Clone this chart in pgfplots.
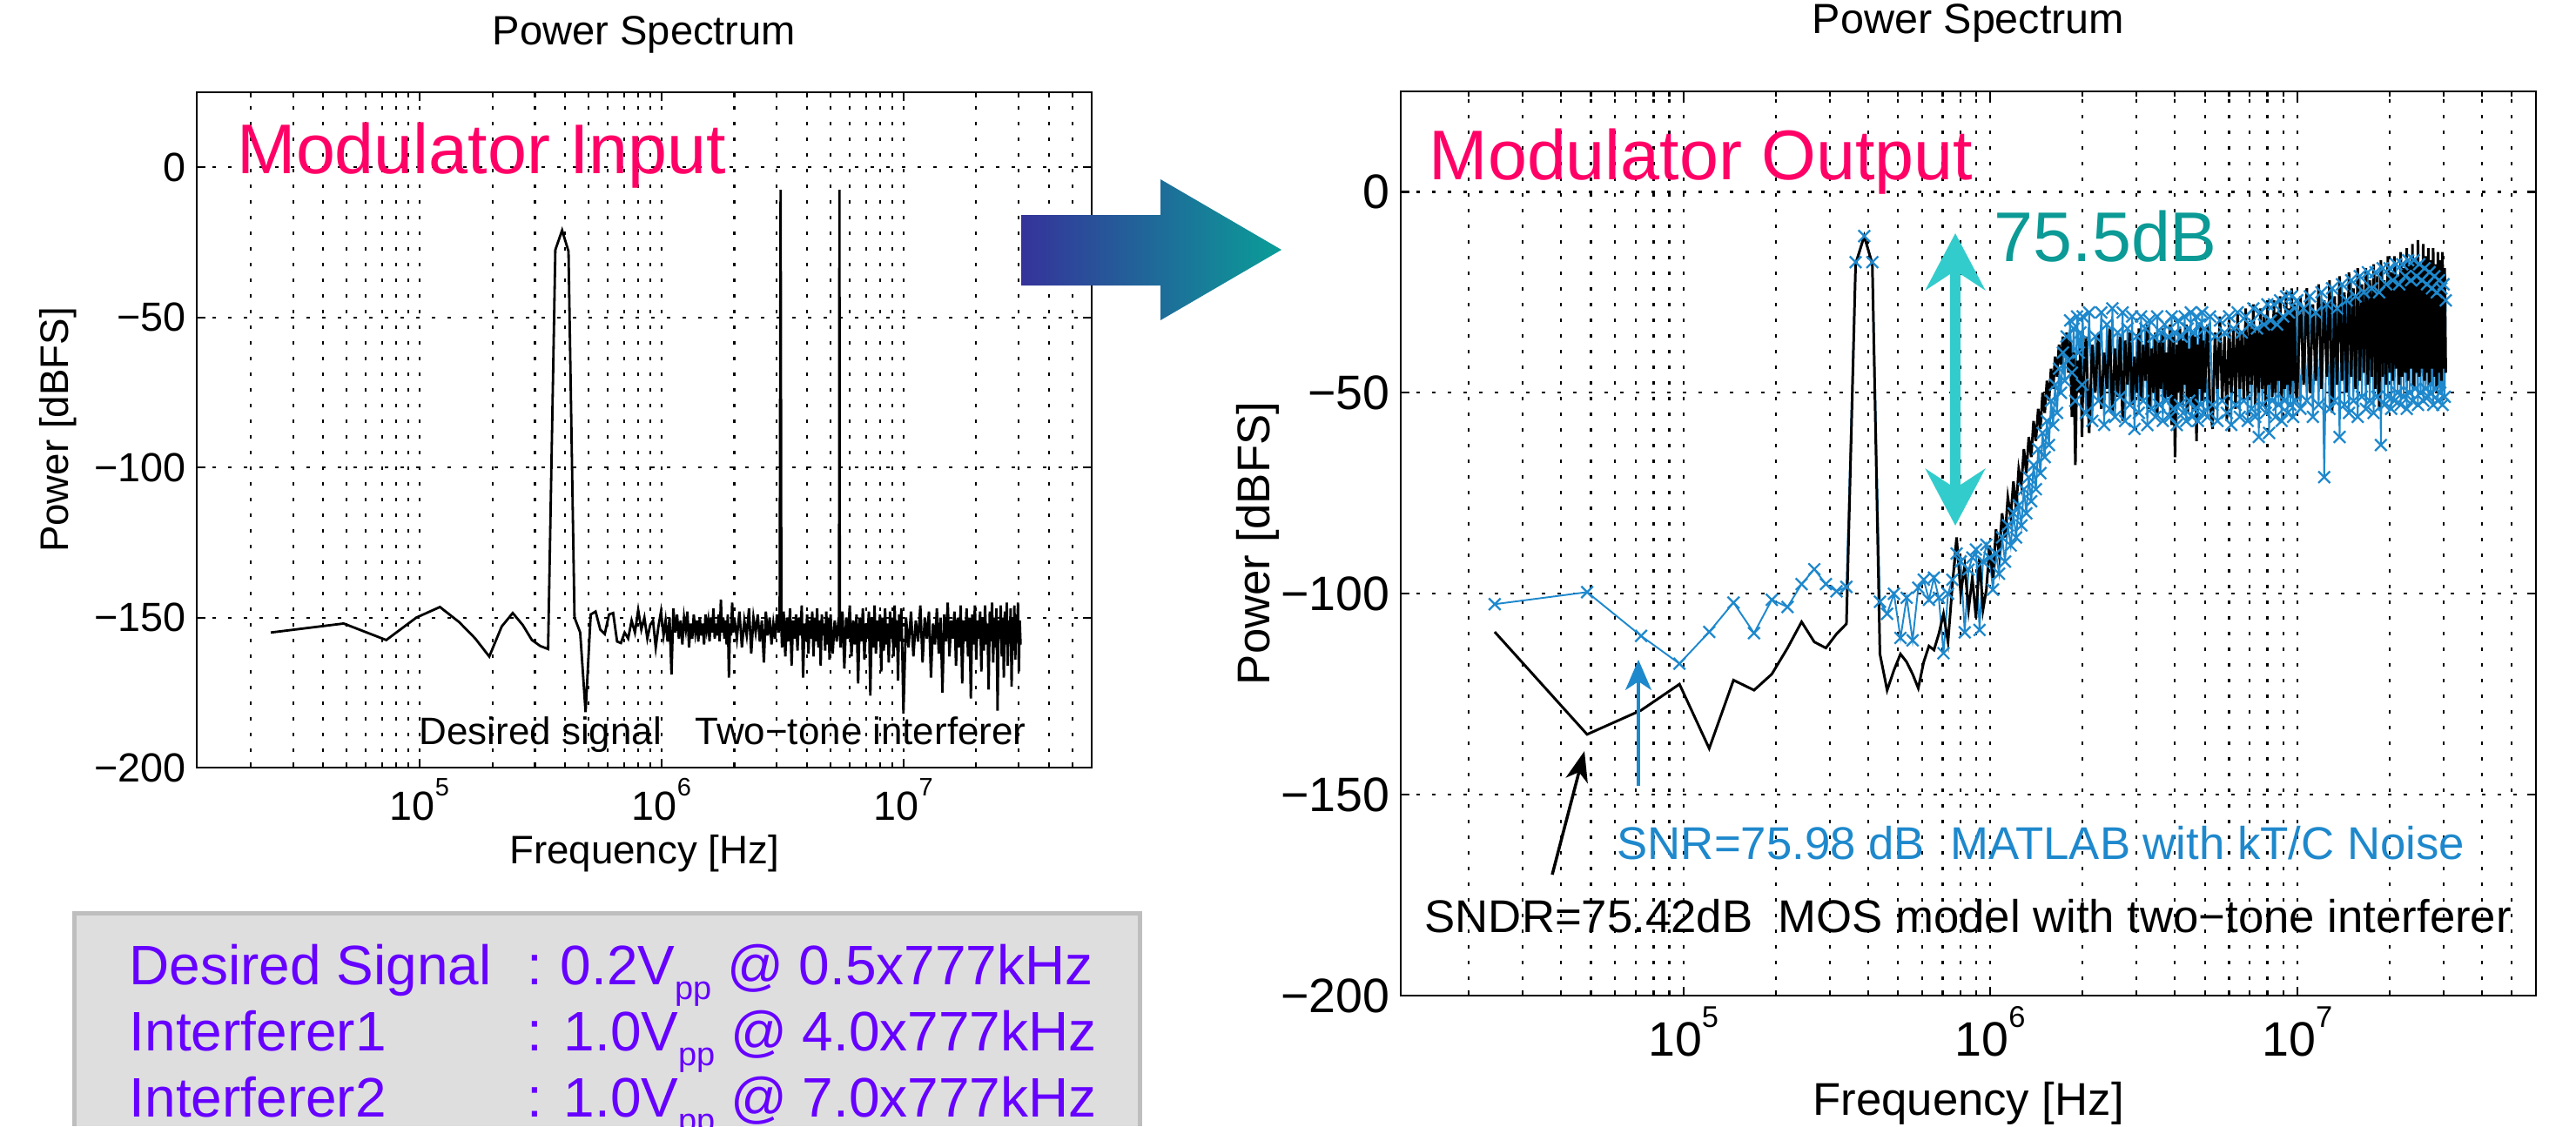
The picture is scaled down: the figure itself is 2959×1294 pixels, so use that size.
\documentclass[border=0pt]{standalone}
\usepackage{fontspec}
\setmainfont{Liberation Sans}
\usepackage{graphicx}
\usepackage{pgfplots}
\pgfplotsset{compat=1.18}
\usetikzlibrary{arrows.meta}

\definecolor{modpink}{HTML}{FF0066}
\definecolor{boxtext}{HTML}{6600FF}
\definecolor{teal75}{HTML}{0B9A95}
\definecolor{turq}{HTML}{33CCCC}
\definecolor{mblue}{HTML}{1E88CC}
\definecolor{arrL}{HTML}{35339A}
\definecolor{arrR}{HTML}{0A9E98}
\definecolor{boxfill}{HTML}{DEDEDE}
\definecolor{boxline}{HTML}{BEBEBE}

\newcommand{\tenpow}[1]{10\raisebox{0.6em}{\scalebox{0.62}{#1}}}

\begin{document}
\begin{tikzpicture}[x=0.1mm, y=-0.1mm]
\useasboundingbox (0,0) rectangle (2959,1294);

% ---------- left: modulator input ----------
\begin{axis}[
  scale only axis,
  at={(2.26cm,-8.82cm)}, anchor=south west,
  width=10.28cm, height=7.76cm,
  xmode=log, xmin=1.2e4, xmax=6e7,
  ymin=-200, ymax=25,
  xtick={1e5,1e6,1e7},
  xticklabels={\tenpow{5},\tenpow{6},\tenpow{7}},
  minor xtick={2e4,3e4,4e4,5e4,6e4,7e4,8e4,9e4,2e5,3e5,4e5,5e5,6e5,7e5,8e5,9e5,
               2e6,3e6,4e6,5e6,6e6,7e6,8e6,9e6,2e7,3e7,4e7,5e7},
  ytick={-200,-150,-100,-50,0},
  yticklabels={−200,−150,−100,−50,0},
  xmajorgrids, xminorgrids, ymajorgrids,
  grid style={black, line width=0.6pt, dash pattern=on 0.4mm off 1.4mm},
  minor grid style={black, line width=0.6pt, dash pattern=on 0.4mm off 1.4mm},
  tick align=inside, tick pos=both,
  major tick length=1mm, minor tick length=0.6mm,
  axis line style={line width=0.7pt},
  tick style={black, line width=0.6pt},
  title={Power Spectrum},
  title style={font=\fontsize{13.4}{16}\selectfont, at={(axis description cs:0.5,1)}, anchor=base, yshift=3.3mm},
  xlabel={Frequency [Hz]}, ylabel={Power [dBFS]},
  every axis x label/.style={at={(axis description cs:0.5,0)}, anchor=base, yshift=-11mm},
  every axis y label/.style={at={(axis description cs:0,0.5)}, xshift=-15.9mm, rotate=90, anchor=center},
  label style={font=\fontsize{13}{15}\selectfont},
  tick label style={font=\fontsize{13.3}{15}\selectfont},
]
\addplot[black, line width=0.8pt] coordinates {
(24281,-155) (48563,-152) (72844,-157.5) (97125,-150) (121406,-146.5) (145688,-151.5)
(169969,-157) (194250,-163) (218531,-153) (242813,-148.5) (267094,-152.5) (291375,-157.5)
(315656,-159.5) (339938,-160.5) (364219,-27.5) (388500,-21) (412781,-28) (437063,-150)
(461344,-155) (485625,-181.5) (509906,-149) (534188,-148) (558469,-154) (582750,-155.5)
(607031,-149) (631313,-148.5) (655594,-158) (679875,-158.5) (704156,-155) (728438,-157)
(752719,-151) (777000,-155) (801281,-147.5) (825563,-154) (849844,-150) (874125,-157)
(898406,-152.5) (922688,-151) (946969,-160) (971250,-153) (995531,-148)
(1.02e6,-156) (1.04e6,-151) (1.06e6,-158) (1.08e6,-150) (1.10e6,-169) (1.12e6,-147)
(1.14e6,-155) (1.16e6,-149) (1.18e6,-157) (1.20e6,-151) (1.22e6,-159) (1.24e6,-150)
(1.26e6,-154) (1.28e6,-148) (1.30e6,-160) (1.32e6,-152) (1.34e6,-157) (1.36e6,-149)
(1.38e6,-155) (1.40e6,-151) (1.42e6,-158) (1.44e6,-150) (1.46e6,-156) (1.48e6,-152)
(1.50e6,-159) (1.52e6,-149) (1.54e6,-154) (1.56e6,-151) (1.58e6,-158) (1.60e6,-150)
(1.62e6,-155) (1.64e6,-147) (1.66e6,-157) (1.68e6,-152) (1.70e6,-156) (1.72e6,-149)
(1.74e6,-158) (1.76e6,-144) (1.78e6,-155) (1.80e6,-150) (1.82e6,-157) (1.84e6,-151)
(1.86e6,-159) (1.88e6,-149) (1.90e6,-170) (1.92e6,-152) (1.94e6,-156) (1.96e6,-145)
(1.98e6,-155)
(2.00e6,-150) (2.05e6,-157) (2.10e6,-148) (2.15e6,-160) (2.20e6,-151) (2.25e6,-156)
(2.30e6,-147) (2.35e6,-162) (2.40e6,-150) (2.45e6,-155) (2.50e6,-149) (2.55e6,-158)
(2.60e6,-151) (2.65e6,-165) (2.70e6,-148) (2.75e6,-156) (2.80e6,-150) (2.85e6,-159)
(2.90e6,-152) (2.95e6,-157) (3.00e6,-149) (3.05e6,-155) (3.08e6,-151) (3.108e6,-7.5)
(3.13e6,-153) (3.15e6,-160) (3.20e6,-148) (3.25e6,-163) (3.30e6,-150) (3.35e6,-158)
(3.40e6,-147) (3.45e6,-166) (3.50e6,-151) (3.55e6,-157) (3.60e6,-149) (3.65e6,-161)
(3.70e6,-150) (3.75e6,-156) (3.80e6,-146) (3.85e6,-170) (3.90e6,-152) (3.95e6,-158)
(4.00e6,-149) (4.05e6,-162) (4.10e6,-151) (4.15e6,-157) (4.20e6,-148) (4.25e6,-163)
(4.30e6,-150) (4.35e6,-158) (4.40e6,-147) (4.45e6,-160) (4.50e6,-151) (4.55e6,-166)
(4.60e6,-149) (4.65e6,-156) (4.70e6,-152) (4.75e6,-161) (4.80e6,-148) (4.85e6,-159)
(4.90e6,-150) (4.95e6,-164)
(5.0e6,-149) (5.1e6,-162) (5.2e6,-151) (5.3e6,-158) (5.4e6,-150) (5.42e6,-152)
(5.439e6,-7.5) (5.46e6,-155) (5.5e6,-160) (5.6e6,-148) (5.7e6,-167) (5.8e6,-150)
(5.9e6,-157) (6.0e6,-146) (6.1e6,-163) (6.2e6,-151) (6.3e6,-159) (6.4e6,-149)
(6.5e6,-172) (6.6e6,-150) (6.7e6,-158) (6.8e6,-147) (6.9e6,-164) (7.0e6,-152)
(7.1e6,-157) (7.2e6,-148) (7.3e6,-176) (7.4e6,-150) (7.5e6,-160) (7.6e6,-146)
(7.7e6,-162) (7.8e6,-151) (7.9e6,-158) (8.0e6,-149) (8.1e6,-168) (8.2e6,-150)
(8.3e6,-161) (8.4e6,-147) (8.5e6,-159) (8.6e6,-152) (8.7e6,-165) (8.8e6,-148)
(8.9e6,-157) (9.0e6,-150) (9.1e6,-163) (9.2e6,-146) (9.3e6,-160) (9.4e6,-151)
(9.5e6,-171) (9.6e6,-149) (9.7e6,-158) (9.8e6,-147) (9.9e6,-162)
(1.000e7,-182) (1.025e7,-150) (1.050e7,-160) (1.075e7,-148) (1.100e7,-163) (1.125e7,-151)
(1.150e7,-158) (1.175e7,-146) (1.200e7,-165) (1.225e7,-150) (1.250e7,-157) (1.275e7,-148)
(1.300e7,-170) (1.325e7,-152) (1.350e7,-159) (1.375e7,-147) (1.400e7,-162) (1.425e7,-150)
(1.450e7,-175) (1.475e7,-149) (1.500e7,-158) (1.525e7,-145) (1.550e7,-163) (1.575e7,-151)
(1.600e7,-157) (1.625e7,-148) (1.650e7,-166) (1.675e7,-150) (1.700e7,-160) (1.725e7,-146)
(1.750e7,-172) (1.775e7,-151) (1.800e7,-158) (1.825e7,-147) (1.850e7,-163) (1.875e7,-150)
(1.900e7,-177) (1.925e7,-149) (1.950e7,-159) (1.975e7,-146) (2.000e7,-164) (2.025e7,-151)
(2.050e7,-157) (2.075e7,-148) (2.100e7,-168) (2.125e7,-150) (2.150e7,-161) (2.175e7,-146)
(2.200e7,-159) (2.225e7,-152) (2.250e7,-174) (2.275e7,-148) (2.300e7,-158) (2.325e7,-145)
(2.350e7,-165) (2.375e7,-150) (2.400e7,-160) (2.425e7,-147) (2.450e7,-181) (2.475e7,-151)
(2.500e7,-157) (2.525e7,-146) (2.550e7,-163) (2.575e7,-150) (2.600e7,-170) (2.625e7,-148)
(2.650e7,-159) (2.675e7,-145) (2.700e7,-166) (2.725e7,-151) (2.750e7,-158) (2.775e7,-147)
(2.800e7,-173) (2.825e7,-150) (2.850e7,-161) (2.875e7,-146) (2.900e7,-164) (2.925e7,-149)
(2.950e7,-158) (2.975e7,-145) (3.000e7,-168) (3.025e7,-151) (3.050e7,-159)
};
\end{axis}

% ---------- right: modulator output ----------
\begin{axis}[
  scale only axis,
  at={(16.09cm,-11.44cm)}, anchor=south west,
  width=13.04cm, height=10.39cm,
  xmode=log, xmin=1.2e4, xmax=6e7,
  ymin=-200, ymax=25,
  xtick={1e5,1e6,1e7},
  xticklabels={\tenpow{5},\tenpow{6},\tenpow{7}},
  minor xtick={2e4,3e4,4e4,5e4,6e4,7e4,8e4,9e4,2e5,3e5,4e5,5e5,6e5,7e5,8e5,9e5,
               2e6,3e6,4e6,5e6,6e6,7e6,8e6,9e6,2e7,3e7,4e7,5e7},
  ytick={-200,-150,-100,-50,0},
  yticklabels={−200,−150,−100,−50,0},
  xmajorgrids, xminorgrids, ymajorgrids,
  grid style={black, line width=0.6pt, dash pattern=on 0.4mm off 1.4mm},
  minor grid style={black, line width=0.6pt, dash pattern=on 0.4mm off 1.4mm},
  tick align=inside, tick pos=both,
  major tick length=1mm, minor tick length=0.6mm,
  axis line style={line width=0.7pt},
  tick style={black, line width=0.6pt},
  title={Power Spectrum},
  title style={font=\fontsize{13.8}{16}\selectfont, at={(axis description cs:0.5,1)}, anchor=base, yshift=4.5mm},
  xlabel={Frequency [Hz]}, ylabel={Power [dBFS]},
  every axis x label/.style={at={(axis description cs:0.5,0)}, anchor=base, yshift=-13.7mm},
  every axis y label/.style={at={(axis description cs:0,0.5)}, xshift=-16.4mm, rotate=90, anchor=center},
  label style={font=\fontsize{15}{18}\selectfont},
  tick label style={font=\fontsize{15.8}{18}\selectfont},
]
% MATLAB model with kT/C noise
\addplot[mblue, line width=0.55pt, mark=x, mark size=0.95mm, mark options={line width=0.65pt}] coordinates {
(24281,-102.6) (48563,-99.6) (72844,-110.5) (97125,-117.4) (121406,-109.5) (145688,-102.2)
(169969,-109.8) (194250,-101.5) (218531,-103.3) (242813,-97.6) (267094,-93.9) (291375,-97.6)
(315656,-99.4) (339938,-98.3) (364219,-17.5) (388500,-11) (412781,-17.5) (437063,-102)
(461344,-105) (485625,-100) (509906,-111) (534188,-101) (558469,-111.6) (582750,-98.5)
(607031,-96.5) (631313,-101.5) (655594,-96) (679875,-101) (704156,-114.8) (728438,-100)
(752719,-96.5) (777000,-90) (801281,-92) (825563,-109.6) (849844,-94) (874125,-91)
(898406,-89) (922688,-109) (946969,-92) (971250,-87.8) (995531,-91)
(1.020e6,-99) (1.044e6,-90) (1.068e6,-95) (1.093e6,-86) (1.117e6,-92) (1.141e6,-83)
(1.166e6,-88) (1.190e6,-80) (1.214e6,-86) (1.238e6,-78) (1.263e6,-83) (1.287e6,-74)
(1.311e6,-80) (1.335e6,-71) (1.360e6,-77) (1.384e6,-68) (1.408e6,-74) (1.433e6,-64)
(1.457e6,-70) (1.481e6,-60) (1.505e6,-66) (1.530e6,-57) (1.554e6,-63) (1.578e6,-52)
(1.603e6,-58) (1.627e6,-48) (1.651e6,-55) (1.675e6,-44) (1.700e6,-50) (1.724e6,-40)
(1.748e6,-47) (1.773e6,-36) (1.797e6,-42) (1.821e6,-32) (1.845e6,-45) (1.870e6,-34)
(1.894e6,-52) (1.918e6,-31) (1.943e6,-40) (1.967e6,-35) (1.991e6,-48)
(2.00e6,-31) (2.05e6,-55) (2.10e6,-30) (2.15e6,-57) (2.20e6,-36) (2.25e6,-52)
(2.30e6,-30) (2.35e6,-58) (2.40e6,-33) (2.45e6,-54) (2.50e6,-29) (2.55e6,-56)
(2.60e6,-35) (2.65e6,-51) (2.70e6,-30) (2.75e6,-57) (2.80e6,-34) (2.85e6,-53)
(2.90e6,-31) (2.95e6,-59) (3.00e6,-36) (3.05e6,-55) (3.10e6,-31) (3.15e6,-52)
(3.20e6,-34) (3.25e6,-58) (3.30e6,-32) (3.35e6,-54) (3.40e6,-36) (3.45e6,-56)
(3.50e6,-31) (3.55e6,-53) (3.60e6,-35) (3.65e6,-57) (3.70e6,-33) (3.75e6,-52)
(3.80e6,-36) (3.85e6,-56) (3.90e6,-31) (3.95e6,-54) (4.00e6,-35) (4.05e6,-58)
(4.10e6,-32) (4.15e6,-53) (4.20e6,-36) (4.25e6,-55) (4.30e6,-31) (4.35e6,-57)
(4.40e6,-34) (4.45e6,-52) (4.50e6,-30) (4.55e6,-56) (4.60e6,-35) (4.65e6,-54)
(4.70e6,-31) (4.75e6,-57) (4.80e6,-33) (4.85e6,-53) (4.90e6,-30) (4.95e6,-55)
(5.0e6,-34) (5.1e6,-56) (5.2e6,-31) (5.3e6,-53) (5.4e6,-36) (5.5e6,-57)
(5.6e6,-32) (5.7e6,-52) (5.8e6,-35) (5.9e6,-55) (6.0e6,-31) (6.1e6,-58)
(6.2e6,-34) (6.3e6,-53) (6.4e6,-30) (6.5e6,-56) (6.6e6,-35) (6.7e6,-52)
(6.8e6,-31) (6.9e6,-57) (7.0e6,-33) (7.1e6,-54) (7.2e6,-29) (7.3e6,-56)
(7.4e6,-34) (7.5e6,-61) (7.6e6,-30) (7.7e6,-53) (7.8e6,-33) (7.9e6,-55)
(8.0e6,-28) (8.1e6,-60) (8.2e6,-32) (8.3e6,-52) (8.4e6,-28) (8.5e6,-56)
(8.6e6,-33) (8.7e6,-53) (8.8e6,-27) (8.9e6,-57) (9.0e6,-31) (9.1e6,-52)
(9.2e6,-26) (9.3e6,-55) (9.4e6,-30) (9.5e6,-53) (9.6e6,-26) (9.7e6,-56)
(9.8e6,-29) (9.9e6,-52)
(1.000e7,-27) (1.025e7,-54) (1.050e7,-29) (1.075e7,-52) (1.100e7,-26) (1.125e7,-56)
(1.150e7,-30) (1.175e7,-53) (1.200e7,-25) (1.225e7,-71) (1.250e7,-28) (1.275e7,-54)
(1.300e7,-24) (1.325e7,-52) (1.350e7,-29) (1.375e7,-61) (1.400e7,-23) (1.425e7,-53)
(1.450e7,-27) (1.475e7,-55) (1.500e7,-22) (1.525e7,-52) (1.550e7,-26) (1.575e7,-56)
(1.600e7,-21) (1.625e7,-51) (1.650e7,-25) (1.675e7,-54) (1.700e7,-20) (1.725e7,-52)
(1.750e7,-24) (1.775e7,-55) (1.800e7,-20) (1.825e7,-51) (1.850e7,-25) (1.875e7,-63)
(1.900e7,-19) (1.925e7,-53) (1.950e7,-23) (1.975e7,-51) (2.000e7,-19) (2.025e7,-54)
(2.050e7,-22) (2.075e7,-52) (2.100e7,-18) (2.125e7,-50) (2.150e7,-23) (2.175e7,-53)
(2.200e7,-18) (2.225e7,-51) (2.250e7,-21) (2.275e7,-54) (2.300e7,-17) (2.325e7,-50)
(2.350e7,-22) (2.375e7,-52) (2.400e7,-17) (2.425e7,-49) (2.450e7,-21) (2.475e7,-53)
(2.500e7,-18) (2.525e7,-50) (2.550e7,-22) (2.575e7,-52) (2.600e7,-19) (2.625e7,-49)
(2.650e7,-23) (2.675e7,-51) (2.700e7,-20) (2.725e7,-50) (2.750e7,-24) (2.775e7,-53)
(2.800e7,-21) (2.825e7,-49) (2.850e7,-25) (2.875e7,-52) (2.900e7,-22) (2.925e7,-50)
(2.950e7,-24) (2.975e7,-53) (3.000e7,-23) (3.025e7,-51) (3.050e7,-27)
};
% MOS model with two-tone interferer
\addplot[black, line width=0.85pt] coordinates {
(24281,-109.5) (48563,-135) (72844,-129) (97125,-122.5) (121406,-138.5) (145688,-121.5)
(169969,-124) (194250,-120) (218531,-113.5) (242813,-107) (267094,-112) (291375,-113.5)
(315656,-110) (339938,-107.5) (364219,-18) (388500,-11) (412781,-18) (437063,-115)
(461344,-124) (485625,-119) (509906,-115) (534188,-117) (558469,-120) (582750,-123.5)
(607031,-117) (631313,-113) (655594,-114) (679875,-110) (704156,-105) (728438,-112)
(752719,-98) (777000,-86) (801281,-100) (825563,-93) (849844,-104) (874125,-96)
(898406,-106) (922688,-91) (946969,-104) (971250,-99) (995531,-88)
(1.020e6,-96) (1.044e6,-84) (1.068e6,-90) (1.093e6,-80) (1.117e6,-86) (1.141e6,-76)
(1.166e6,-81) (1.190e6,-72) (1.214e6,-79) (1.238e6,-69) (1.263e6,-73) (1.287e6,-64)
(1.311e6,-70) (1.335e6,-61) (1.360e6,-66) (1.384e6,-57) (1.408e6,-62) (1.433e6,-54)
(1.457e6,-59) (1.481e6,-50) (1.505e6,-55) (1.530e6,-47) (1.554e6,-52) (1.578e6,-44)
(1.603e6,-49) (1.627e6,-41) (1.651e6,-46) (1.675e6,-38) (1.700e6,-43) (1.724e6,-36)
(1.748e6,-41) (1.773e6,-35) (1.797e6,-45) (1.821e6,-37) (1.845e6,-56) (1.870e6,-40)
(1.894e6,-68) (1.918e6,-42) (1.943e6,-50) (1.967e6,-39) (1.991e6,-61)
(2.00e6,-52) (2.05e6,-36) (2.10e6,-60) (2.15e6,-38) (2.20e6,-50) (2.25e6,-35)
(2.30e6,-54) (2.35e6,-40) (2.40e6,-49) (2.45e6,-34) (2.50e6,-55) (2.55e6,-39)
(2.60e6,-51) (2.65e6,-36) (2.70e6,-57) (2.75e6,-37) (2.80e6,-48) (2.85e6,-35)
(2.90e6,-53) (2.95e6,-41) (3.00e6,-50) (3.05e6,-34) (3.10e6,-52) (3.15e6,-38)
(3.20e6,-47) (3.25e6,-33) (3.30e6,-54) (3.35e6,-39) (3.40e6,-50) (3.45e6,-35)
(3.50e6,-56) (3.55e6,-37) (3.60e6,-49) (3.65e6,-34) (3.70e6,-52) (3.75e6,-40)
(3.80e6,-51) (3.85e6,-33) (3.90e6,-58) (3.95e6,-36) (4.00e6,-66) (4.05e6,-38)
(4.10e6,-50) (4.15e6,-34) (4.20e6,-53) (4.25e6,-37) (4.30e6,-48) (4.35e6,-33)
(4.40e6,-55) (4.45e6,-39) (4.50e6,-51) (4.55e6,-35) (4.60e6,-54) (4.65e6,-36)
(4.70e6,-62) (4.75e6,-38) (4.80e6,-49) (4.85e6,-33) (4.90e6,-52) (4.95e6,-37)
(5.0e6,-50) (5.1e6,-33) (5.2e6,-53) (5.3e6,-59) (5.4e6,-35) (5.5e6,-49)
(5.6e6,-31) (5.7e6,-52) (5.8e6,-36) (5.9e6,-57) (6.0e6,-32) (6.1e6,-50)
(6.2e6,-34) (6.3e6,-54) (6.4e6,-30) (6.5e6,-49) (6.6e6,-35) (6.7e6,-52)
(6.8e6,-29) (6.9e6,-51) (7.0e6,-33) (7.1e6,-48) (7.2e6,-28) (7.3e6,-53)
(7.4e6,-34) (7.5e6,-50) (7.6e6,-29) (7.7e6,-49) (7.8e6,-31) (7.9e6,-54)
(8.0e6,-27) (8.1e6,-48) (8.2e6,-32) (8.3e6,-51) (8.4e6,-27) (8.5e6,-50)
(8.6e6,-30) (8.7e6,-47) (8.8e6,-26) (8.9e6,-52) (9.0e6,-31) (9.1e6,-49)
(9.2e6,-25) (9.3e6,-48) (9.4e6,-29) (9.5e6,-51) (9.6e6,-24) (9.7e6,-47)
(9.8e6,-28) (9.9e6,-50)
(1.000e7,-51) (1.025e7,-26) (1.050e7,-48) (1.075e7,-24) (1.100e7,-50) (1.125e7,-28)
(1.150e7,-47) (1.175e7,-23) (1.200e7,-49) (1.225e7,-27) (1.250e7,-46) (1.275e7,-22)
(1.300e7,-55) (1.325e7,-26) (1.350e7,-48) (1.375e7,-21) (1.400e7,-47) (1.425e7,-25)
(1.450e7,-50) (1.475e7,-20) (1.500e7,-46) (1.525e7,-24) (1.550e7,-49) (1.575e7,-19)
(1.600e7,-47) (1.625e7,-23) (1.650e7,-45) (1.675e7,-19) (1.700e7,-48) (1.725e7,-22)
(1.750e7,-46) (1.775e7,-18) (1.800e7,-49) (1.825e7,-21) (1.850e7,-54) (1.875e7,-17)
(1.900e7,-46) (1.925e7,-22) (1.950e7,-48) (1.975e7,-16) (2.000e7,-45) (2.025e7,-20)
(2.050e7,-47) (2.075e7,-16) (2.100e7,-44) (2.125e7,-21) (2.150e7,-48) (2.175e7,-15)
(2.200e7,-46) (2.225e7,-19) (2.250e7,-45) (2.275e7,-14) (2.300e7,-47) (2.325e7,-18)
(2.350e7,-44) (2.375e7,-13) (2.400e7,-49) (2.425e7,-17) (2.450e7,-45) (2.475e7,-12)
(2.500e7,-46) (2.525e7,-18) (2.550e7,-44) (2.575e7,-13) (2.600e7,-47) (2.625e7,-16)
(2.650e7,-45) (2.675e7,-14) (2.700e7,-48) (2.725e7,-17) (2.750e7,-44) (2.775e7,-14)
(2.800e7,-46) (2.825e7,-18) (2.850e7,-50) (2.875e7,-15) (2.900e7,-45) (2.925e7,-17)
(2.950e7,-47) (2.975e7,-15) (3.000e7,-44) (3.025e7,-19) (3.050e7,-45)
};
\end{axis}

% ---------- annotations ----------
\node[anchor=base west, inner sep=0, text=modpink, font=\fontsize{23}{26}\selectfont] at (272,199) {Modulator Input};
\node[anchor=base west, inner sep=0, font=\fontsize{12.5}{15}\selectfont] at (481,855) {Desired signal};
\node[anchor=base west, inner sep=0, font=\fontsize{12.5}{15}\selectfont] at (798,855) {Two−tone interferer};

\node[anchor=base west, inner sep=0, text=modpink, font=\fontsize{23}{26}\selectfont] at (1641,206) {Modulator Output};
\node[anchor=base west, inner sep=0, text=teal75, font=\fontsize{23}{26}\selectfont] at (2290,300) {75.5dB};
\draw[turq, line width=1.2mm, {Stealth[length=6.5mm,width=6.8mm,inset=2.2mm]}-{Stealth[length=6.5mm,width=6.8mm,inset=2.2mm]}] (2246,604) -- (2246,268);
\draw[mblue, line width=0.35mm, -{Stealth[length=3.5mm,width=3mm,inset=1mm]}] (1882,903) -- (1882,758);
\draw[black, line width=0.35mm, -{Stealth[length=3.5mm,width=2.6mm,inset=1mm]}] (1783,1005) -- (1820,863);
\node[anchor=base west, inner sep=0, text=mblue, font=\fontsize{15}{18}\selectfont] at (1857,987) {SNR=75.98 dB\ \ MATLAB with kT/C Noise};
\node[anchor=base west, inner sep=0, font=\fontsize{15}{18}\selectfont] at (1636,1071) {SNDR=75.42dB\ \ MOS model with two−tone interferer};

% big arrow between the panels
\shade[left color=arrL, right color=arrR] (1173,247) -- (1333,247) -- (1333,206) -- (1472,287) -- (1333,368) -- (1333,328) -- (1173,328) -- cycle;

% signal description box
\fill[boxfill] (83,1047) rectangle (1311,1294);
\draw[boxline, line width=0.5mm] (85,1294) -- (85,1049) -- (1309,1049) -- (1309,1294);
\begin{scope}[every node/.style={anchor=base west, inner sep=0, text=boxtext, font=\fontsize{18.2}{20}\selectfont}]
\node at (148,1131) {Desired Signal};
\node at (605,1131) {:};
\node at (643,1131) {0.2V\raisebox{-1.7mm}{\fontsize{10.8}{11}\selectfont pp} @ 0.5x777kHz};
\node at (148,1207) {Interferer1};
\node at (605,1207) {:};
\node at (647,1207) {1.0V\raisebox{-1.7mm}{\fontsize{10.8}{11}\selectfont pp} @ 4.0x777kHz};
\node at (148,1283) {Interferer2};
\node at (605,1283) {:};
\node at (647,1283) {1.0V\raisebox{-1.7mm}{\fontsize{10.8}{11}\selectfont pp} @ 7.0x777kHz};
\end{scope}
\end{tikzpicture}
\end{document}
